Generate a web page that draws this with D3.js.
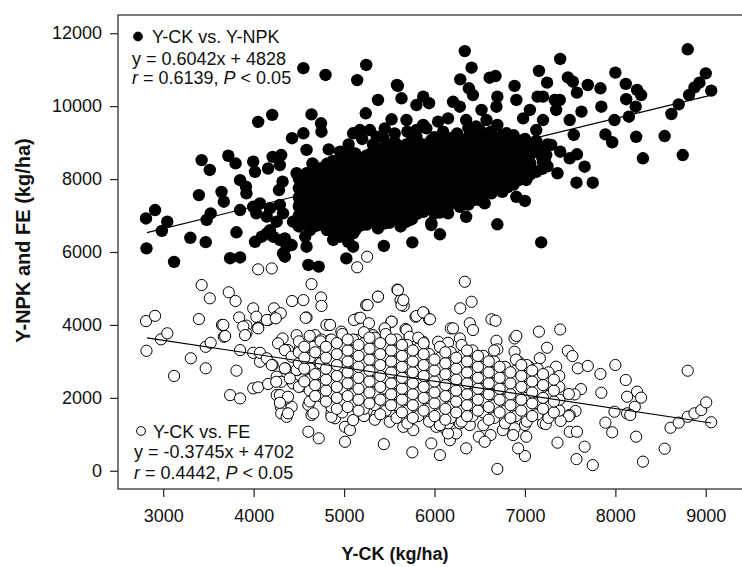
<!DOCTYPE html>
<html>
<head>
<meta charset="utf-8">
<script src="https://cdn.jsdelivr.net/npm/d3@7/dist/d3.min.js"></script>
<style>
  html, body { margin: 0; padding: 0; background: #fff; }
  svg { display: block; font-family: "Liberation Sans", Arial, sans-serif; }
</style>
</head>
<body>
<svg id="chart" width="742" height="567"></svg>
<script>
// ---------------- DATA ----------------
const xTicks = [3000, 4000, 5000, 6000, 7000, 8000, 9000];
const yTicks = [0, 2000, 4000, 6000, 8000, 10000, 12000];
const xTitle = "Y-CK (kg/ha)";
const yTitle = "Y-NPK and FE (kg/ha)";

// Y-CK vs. Y-NPK (filled circles)
const ckVsNpk = [
  [2810,6920],[2910,7150],[2815,6100],[2985,6580],[3045,6830],[3120,5730],[3300,6390],[3395,7560],[3425,8520],[3515,8250],
  [3470,6270],[3480,6880],[3525,7060],[3645,7650],[3670,7380],[3720,8640],[3800,8430],[3810,6540],[3740,5830],[3850,5850],
  [3850,7150],[3850,7970],[3915,7790],[3995,8480],[4015,8200],[3920,7610],[4050,9570],[4205,9760],[3995,7240],[4030,7060],
  [4070,7330],[4160,8290],[4210,8610],[4305,8660],[4290,8385],[4320,7930],[4280,7700],[4290,7290],[4180,7200],[4145,6970],
  [4325,7060],[4255,6830],[4015,6280],[4090,6420],[4145,6510],[4180,6600],[4215,6420],[4290,6330],[4345,6375],[4325,5960],
  [4365,6145],[4420,6190],[4345,5870],[4425,9120],[4550,9255],[4640,9775],[4745,9530],[4750,9300],[4585,8800],[4650,8430],
  [4550,11040],[4795,10855],[5145,10715],[5245,11130],[5240,9805],[4830,8815],[4955,8750],[4475,8160],[4585,8160],[4570,7515],
  [4510,7335],[4435,6830],[4530,6830],[4570,6420],[4585,6145],[4605,5645],[4720,5600],[5025,5825],[4955,6420],[4955,6600],
  [5045,6280],[5100,6510],[5080,6970],[5195,7335],[4880,6330],[4860,6600],[4730,6880],[4825,7240],[4695,7240],[5100,9255],
  [4660,8385],[4845,8385],[4970,8520],[5585,10580],[5175,9345],[5285,9345],[5800,9345],[5910,9390],[6095,9300],[5965,6795],
  [5100,6145],[7220,8520],[6260,7335],
  [6335,11510],[6410,11055],[6285,10735],[6610,10780],[6675,10825],[6380,10490],[6425,10305],[7390,11295],[7155,10965],[7245,10645],
  [7475,10790],[7530,10670],[7695,10580],[7575,10370],[7835,10490],[8000,10920],[8115,10610],[8240,10445],[8285,10305],[8800,11560],
  [9000,10900],[8930,10645],[8875,10515],[8815,10305],[9060,10425],[8700,10050],[8620,9785],[8545,9180],[8745,8660],[8305,8570],
  [8230,9160],[8150,9710],[8225,9985],[8120,10190],[7990,9620],[7845,9985],[7890,9225],[7965,9010],[7750,7900],[7570,7900],
  [7660,8340],[7575,8680],[7495,8570],[7540,9210],[7625,9850],[7495,9620],[7360,8160],[7390,8750],[7180,6265],[7200,8475],
  [7235,8660],[7290,8935],[7330,10170],[7200,10260],[7140,10260],[7385,10170],[7345,9895],[7200,9620],[7125,9345],[7055,9895],
  [6980,9665],[6905,10170],[6885,10555],[6695,10260],[6685,9985],[6520,9895],[6575,9620],[6695,9485],[6795,9255],[6940,8980],
  [7015,8750],[6980,8340],[7015,7975],[6940,8160],[6905,7515],[7000,7400],[6755,7975],[6630,7610],[6500,7425],[6555,7335],
  [6350,6965],[6695,6760],[6390,7610],[6280,7240],[6150,7060],[6060,6485],[5965,6740],[6000,7060],[5755,6265],[5440,6165],
  [5725,6875],[5655,6925],[5505,6875],[5360,6875],[5395,7240],[5525,7515],[5690,7150],[5835,7425],[5950,7610],[6095,7425],
  [6240,7700],[5375,10170],[5595,10555],[5635,10215],[5800,10030],[5875,10260],[5940,10080],[5525,9640],[5450,9390],[5690,9620],
  [5875,9485],[6040,9575],[6150,9665],[6205,10120],[6280,9985],[5965,9070],[5800,9160],[5560,9020],[5360,9160],[6350,9620],
  [6460,9440],[5050,8950],[5200,9100],[5320,8950],[5430,9150],[5560,9250],[5700,9300],[5650,8900],
  // dense core
  [4500,6700],[4500,7000],[4500,7250],[4500,7500],[4500,7750],[4500,8000],
  [4625,6600],[4625,6850],[4625,7100],[4625,7400],[4625,7650],[4625,7900],[4625,8150],
  [4750,6750],[4750,7000],[4750,7250],[4750,7550],[4750,7800],[4750,8050],[4750,8300],
  [4875,6550],[4875,6850],[4875,7100],[4875,7400],[4875,7650],[4875,7950],[4875,8250],[4875,8500],
  [5000,6700],[5000,6950],[5000,7250],[5000,7500],[5000,7750],[5000,8000],[5000,8300],[5000,8600],
  [5125,6600],[5125,6900],[5125,7150],[5125,7400],[5125,7700],[5125,7950],[5125,8200],[5125,8450],[5125,8700],
  [5250,6750],[5250,7050],[5250,7300],[5250,7550],[5250,7800],[5250,8100],[5250,8350],[5250,8650],
  [5375,6650],[5375,6950],[5375,7200],[5375,7500],[5375,7750],[5375,8000],[5375,8250],[5375,8550],[5375,8850],
  [5500,6800],[5500,7100],[5500,7350],[5500,7600],[5500,7900],[5500,8150],[5500,8400],[5500,8700],[5500,8950],
  [5625,6700],[5625,7000],[5625,7250],[5625,7550],[5625,7800],[5625,8050],[5625,8300],[5625,8600],
  [5750,6900],[5750,7200],[5750,7450],[5750,7700],[5750,7950],[5750,8250],[5750,8500],[5750,8800],[5750,9050],
  [5875,7100],[5875,7350],[5875,7650],[5875,7900],[5875,8150],[5875,8400],[5875,8700],[5875,8950],
  [6000,7300],[6000,7550],[6000,7850],[6000,8100],[6000,8350],[6000,8600],[6000,8900],[6000,9150],
  [6125,7200],[6125,7450],[6125,7750],[6125,8000],[6125,8250],[6125,8500],[6125,8800],[6125,9050],
  [6250,7400],[6250,7650],[6250,7900],[6250,8200],[6250,8450],[6250,8700],[6250,8950],[6250,9250],
  [6375,7300],[6375,7850],[6375,8100],[6375,8350],[6375,8650],[6375,8900],[6375,9150],[6375,9400],
  [6500,7550],[6500,7800],[6500,8050],[6500,8300],[6500,8600],[6500,8850],[6500,9100],[6500,9350],
  [6625,7700],[6625,7950],[6625,8250],[6625,8500],[6625,8750],[6625,9000],[6625,9300],
  [6750,7650],[6750,8150],[6750,8450],[6750,8700],[6750,8950],[6750,9200],
  [6875,7850],[6875,8100],[6875,8400],[6875,8650],[6875,8900],[6875,9200],
  [7000,8050],[7000,8300],[7000,8600],[7000,9100],
  [7125,8200],[7125,8750],[7125,9050],
  [7250,8350],[7250,8950],
  [4560,6850],[4560,7120],[4560,7380],[4560,7630],[4560,7880],
  [4690,6720],[4690,6980],[4690,7230],[4690,7480],[4690,7730],[4690,8000],[4690,8230],
  [4810,6600],[4810,6870],[4810,7130],[4810,7380],[4810,7700],[4810,7930],[4810,8180],[4810,8420],
  [4940,6820],[4940,7080],[4940,7330],[4940,7600],[4940,7880],[4940,8130],[4940,8420],
  [5060,6580],[5060,6830],[5060,7100],[5060,7370],[5060,7630],[5060,7880],[5060,8130],[5060,8430],[5060,8680],
  [5190,6730],[5190,7030],[5190,7280],[5190,7560],[5190,7830],[5190,8080],[5190,8330],[5190,8580],
  [5310,6880],[5310,7180],[5310,7420],[5310,7680],[5310,7930],[5310,8180],[5310,8450],[5310,8730],
  [5440,6780],[5440,7050],[5440,7280],[5440,7560],[5440,7830],[5440,8080],[5440,8330],[5440,8600],[5440,8830],
  [5560,6950],[5560,7230],[5560,7480],[5560,7730],[5560,7980],[5560,8250],[5560,8530],[5560,8820],
  [5690,6830],[5690,7100],[5690,7380],[5690,7630],[5690,7880],[5690,8130],[5690,8420],[5690,8700],[5690,8950],
  [5810,7050],[5810,7330],[5810,7580],[5810,7830],[5810,8080],[5810,8380],[5810,8630],[5810,8880],
  [5940,7180],[5940,7430],[5940,7720],[5940,7980],[5940,8230],[5940,8480],[5940,8780],
  [6060,7080],[6060,7380],[6060,7630],[6060,7930],[6060,8180],[6060,8430],[6060,8680],[6060,9030],
  [6190,7330],[6190,7580],[6190,7830],[6190,8080],[6190,8380],[6190,8630],[6190,8880],[6190,9130],
  [6310,7480],[6310,7730],[6310,8030],[6310,8280],[6310,8530],[6310,8830],[6310,9080],
  [6440,7430],[6440,7700],[6440,7980],[6440,8230],[6440,8480],[6440,8780],[6440,9030],[6440,9280],
  [6560,7630],[6560,7880],[6560,8130],[6560,8430],[6560,8680],[6560,8930],[6560,9180],
  [6690,7830],[6690,8080],[6690,8330],[6690,8630],[6690,8880],[6690,9130],
  [6810,7780],[6810,8030],[6810,8280],[6810,8580],[6810,8830],[6810,9080],
  [6940,7980],[6940,8230],[6940,8480],[6940,8780],[6940,9030],
  [7060,8130],[7060,8430],[7060,8680],[7060,8930],
  [7190,8280],[7190,8600],[7190,8880]
];

// Y-CK vs. FE (open circles)
const ckVsFe = [
  [2810,4105],[2910,4250],[2815,3290],[2975,3605],[3045,3770],[3120,2600],[3305,3085],[3395,4160],[3425,5095],[3515,4730],
  [3470,2810],[3470,3400],[3525,3510],[3650,4000],[3670,3675],[3725,4895],[3800,4655],[3810,2745],[3740,2075],[3850,1985],
  [3850,3310],[3840,4205],[3920,3980],[3920,3770],[3995,4455],[4030,4225],[4050,3925],[3995,3235],[4070,2990],[4070,3235],
  [3995,2260],[4050,2290],[4160,2380],[4160,4135],[4225,4455],[4250,4225],[4300,4320],[4210,2900],[4255,2580],[4255,2075],
  [4305,2440],[4305,1940],[4300,1755],[4305,1575],[4365,1480],[4420,1755],[4365,1985],[4280,3510],[4320,3630],[4350,2810],
  [4425,4655],[4550,4680],[4640,5120],[4745,4755],[4750,4520],[4585,4205],[4835,4000],[4970,3815],[4435,2395],[4510,2625],
  [4530,2320],[4485,2765],[4475,3720],[4550,3130],[4620,2990],[4660,3400],[4680,3720],[4750,3130],[4605,1805],[4640,1530],
  [4605,1070],[4720,890],[4660,2120],[4715,2395],[4805,2440],[4860,2215],[4860,1575],[4900,1440],[5010,1205],[5010,795],
  [5065,1115],[5100,1390],[5065,1985],[5025,2300],[4880,3035],[4955,2765],[4990,3265],[5120,3590],[5155,4180],[5245,4545],
  [4050,5525],[4200,5550],[4145,4135],[4245,4180],[3885,3955],[4050,3905],[3905,3720],[3665,4000],[3685,3695],[4270,3495],
  [4750,3600],[4380,3310],[4510,3355],[4145,3085],[4200,2900],[4345,3310],[4420,3130],[4570,3130],[4715,3145],[4345,2810],
  [4475,2765],[4620,2810],[4770,2810],[4250,2440],[4400,2535],[4550,2395],[4695,2440],[4290,2075],[4380,2030],[4290,1865],
  [4380,1575],[4650,2120],[4660,1575],[4575,4195],[4805,4000],
  [5255,5870],[5145,5580],[5590,4970],[5625,4680],[5660,4520],[5375,4775],[5260,4545],[5790,4225],[5880,4335],[5940,4155],
  [5110,4135],[5180,4195],[5275,4045],[5525,4090],[5450,3890],[4845,4000],[5680,3890],[6180,3905],[5320,3720],[5725,3655],
  [6040,3540],[6150,3510],[5875,3400],[5560,3400],[5430,3540],[5135,3585],[4845,3585],
  [4860,1480],[5360,1480],[5505,1575],[5670,1440],[5890,1575],[6000,1300],[6130,1115],[6170,840],[6490,935],[6240,1025],
  [6335,5185],[5595,4955],[5375,4775],[5635,4545],[5655,4680],[5800,4245],[5875,4345],[5950,4155],[5525,4090],[5450,3905],
  [5690,3860],[5725,3675],[5875,3540],[6205,3905],[6285,4455],[6410,4635],[6390,4045],[6425,3860],[6280,3630],[6630,4155],
  [6675,4115],[6685,3565],[6695,3330],[6885,3630],[6905,3700],[6885,3265],[6930,2990],[7045,2855],[7155,3815],[7245,3375],
  [7165,3085],[7345,2855],[7390,3875],[7475,3290],[7525,3145],[7585,2810],[7695,2875],[7835,2655],[8000,2900],[8115,2490],
  [8240,2170],[8285,2005],[8130,2030],[8215,1755],[8130,1575],[8165,1530],[7990,1620],[7845,2140],[7620,2240],[7550,2095],
  [7485,2105],[7560,1640],[7495,1530],[7485,1500],[7345,1800],[7395,1365],[7275,1620],[7200,1305],[7230,1280],[7890,1320],
  [7965,1055],[7495,1070],[7575,1070],[7660,660],[7570,320],[7750,155],[7360,770],[8230,935],[8305,250],[8545,605],
  [8610,1180],[8700,1320],[8800,1480],[8875,1575],[8950,1665],[9005,1875],[9060,1330],[8800,2745],[6695,50],[7000,405],
  [6925,615],[7015,935],[7000,1255],[6885,1165],[6870,980],[6755,1115],[6750,1740],[6695,1735],[6620,980],[6555,795],
  [6350,615],[6060,430],[5965,750],[5755,505],[5440,730],[5655,1205],[5505,1345],[5360,1530],[5765,1115],[6020,1205],
  [6150,1025],[6280,1300],[6390,1255],[6150,1300],[6960,1575],[6815,2395],[7200,2440],[7275,2075],[7275,1575],
  // dense core
  [4500,2300],[4500,2950],[4500,3250],[4500,3550],
  [4620,1900],[4620,2200],[4620,2500],[4620,3100],[4620,3700],
  [4740,2050],[4740,2350],[4740,2650],[4740,2950],[4740,3250],[4740,3550],
  [4860,1750],[4860,2100],[4860,2400],[4860,2700],[4860,3000],[4860,3300],[4860,3600],
  [4980,1600],[4980,1900],[4980,2250],[4980,2550],[4980,2850],[4980,3150],[4980,3450],[4980,3750],
  [5100,1800],[5100,2100],[5100,2400],[5100,2700],[5100,3000],[5100,3300],[5100,3600],
  [5220,1500],[5220,1700],[5220,2000],[5220,2300],[5220,2600],[5220,2900],[5220,3200],[5220,3500],[5220,3800],
  [5340,1400],[5340,1800],[5340,2150],[5340,2450],[5340,2750],[5340,3050],[5340,3350],[5340,3650],
  [5460,1650],[5460,1950],[5460,2250],[5460,2550],[5460,2850],[5460,3150],[5460,3450],[5460,3750],
  [5580,1450],[5580,1800],[5580,2100],[5580,2400],[5580,2700],[5580,3000],[5580,3300],[5580,3600],
  [5700,1300],[5700,1650],[5700,1950],[5700,2250],[5700,2550],[5700,2850],[5700,3150],[5700,3450],
  [5820,1500],[5820,1850],[5820,2150],[5820,2450],[5820,2750],[5820,3050],[5820,3350],[5820,3650],
  [5940,1350],[5940,1700],[5940,2000],[5940,2300],[5940,2600],[5940,2900],[5940,3200],
  [6060,1250],[6060,1550],[6060,1900],[6060,2200],[6060,2500],[6060,2800],[6060,3100],[6060,3400],
  [6180,1450],[6180,1750],[6180,2050],[6180,2350],[6180,2650],[6180,2950],[6180,3250],
  [6300,1350],[6300,1650],[6300,1950],[6300,2250],[6300,2550],[6300,2850],[6300,3150],[6300,3450],
  [6420,1500],[6420,1800],[6420,2100],[6420,2400],[6420,2700],[6420,3000],[6420,3300],
  [6540,1250],[6540,1600],[6540,1950],[6540,2250],[6540,2550],[6540,2850],[6540,3150],
  [6660,1450],[6660,1800],[6660,2100],[6660,2400],[6660,2700],[6660,3000],[6660,3300],
  [6780,1300],[6780,1650],[6780,1950],[6780,2250],[6780,2550],[6780,2850],
  [6900,1500],[6900,1800],[6900,2150],[6900,2450],[6900,2750],[6900,3050],
  [7020,1350],[7020,1700],[7020,2000],[7020,2300],[7020,2600],[7020,2900],
  [7140,1550],[7140,1850],[7140,2200],[7140,2500],[7140,2800],
  [7260,1450],[7260,1750],[7260,2050],[7260,2400],[7260,2700],
  [7380,1650],[7380,1950],[7380,2300],[7380,2600],
  [4560,2450],[4560,2800],[4560,3100],[4560,3400],
  [4680,2050],[4680,2350],[4680,2650],[4680,3250],
  [4800,1900],[4800,2200],[4800,2500],[4800,2800],[4800,3100],[4800,3400],
  [4920,1700],[4920,2000],[4920,2300],[4920,2600],[4920,2900],[4920,3200],[4920,3500],
  [5040,1750],[5040,2050],[5040,2400],[5040,2700],[5040,3000],[5040,3300],[5040,3600],
  [5160,1650],[5160,1950],[5160,2250],[5160,2550],[5160,2850],[5160,3150],[5160,3450],
  [5280,1850],[5280,2150],[5280,2450],[5280,2750],[5280,3050],[5280,3350],[5280,3650],
  [5400,1550],[5400,1950],[5400,2300],[5400,2600],[5400,2900],[5400,3200],[5400,3500],
  [5520,1800],[5520,2100],[5520,2400],[5520,2700],[5520,3000],[5520,3300],[5520,3600],
  [5640,1600],[5640,1950],[5640,2250],[5640,2550],[5640,2850],[5640,3150],[5640,3450],
  [5760,1450],[5760,1800],[5760,2100],[5760,2400],[5760,2700],[5760,3000],[5760,3300],
  [5880,1650],[5880,2000],[5880,2300],[5880,2600],[5880,2900],[5880,3200],[5880,3500],
  [6000,1500],[6000,1850],[6000,2150],[6000,2450],[6000,2750],[6000,3050],
  [6120,1400],[6120,1700],[6120,2050],[6120,2350],[6120,2650],[6120,2950],[6120,3250],
  [6240,1600],[6240,1900],[6240,2200],[6240,2500],[6240,2800],[6240,3100],
  [6360,1500],[6360,1800],[6360,2100],[6360,2400],[6360,2700],[6360,3000],[6360,3300],
  [6480,1650],[6480,1950],[6480,2250],[6480,2550],[6480,2850],[6480,3150],
  [6600,1400],[6600,1750],[6600,2100],[6600,2400],[6600,2700],[6600,3000],
  [6720,1600],[6720,1950],[6720,2250],[6720,2550],[6720,2850],
  [6840,1450],[6840,1800],[6840,2100],[6840,2400],[6840,2700],
  [6960,1650],[6960,1950],[6960,2300],[6960,2600],[6960,2900],
  [7080,1500],[7080,1850],[7080,2150],[7080,2450],[7080,2750],
  [7200,1700],[7200,2000],[7200,2350],[7200,2650],
  [7320,1600],[7320,1900],[7320,2200],[7320,2500]
];

// fitted lines and legend texts
const fitRange = [2820, 9060];
const npkFit = [0.6042, 4828];
const feFit = [-0.3745, 4702];
const npkLegend = ["Y-CK vs. Y-NPK", "y = 0.6042x + 4828", ["r", " = 0.6139, ", "P", " < 0.05"]];
const feLegend = ["Y-CK vs. FE", "y = -0.3745x + 4702", ["r", " = 0.4442, ", "P", " < 0.05"]];

// ---------------- CHART ----------------
const svg = d3.select("#chart");
const x = d3.scaleLinear().domain([2500, 9500]).range([118, 751]);
const y = d3.scaleLinear().domain([-500, 12500]).range([489, 15]);
const FS = 18;

// frame
svg.append("rect")
  .attr("x", x(2500)).attr("y", y(12500))
  .attr("width", x(9500) - x(2500)).attr("height", y(-500) - y(12500))
  .attr("fill", "none").attr("stroke", "#222").attr("stroke-width", 1.2);

// axes
const xAxis = svg.append("g").attr("transform", `translate(0,${y(-500)})`)
  .call(d3.axisBottom(x).tickValues(xTicks).tickFormat(d3.format("d")).tickSize(8).tickSizeOuter(0).tickPadding(12.5));
const yAxis = svg.append("g").attr("transform", `translate(${x(2500)},0)`)
  .call(d3.axisLeft(y).tickValues(yTicks).tickFormat(d3.format("d")).tickSize(8).tickSizeOuter(0).tickPadding(8));
[xAxis, yAxis].forEach(g => {
  g.select(".domain").remove();
  g.selectAll(".tick line").attr("stroke", "#222").attr("stroke-width", 1.2);
  g.selectAll(".tick text").attr("fill", "#111").style("font-size", FS + "px")
    .style("font-family", '"Liberation Sans", Arial, sans-serif');
});

// axis titles
svg.append("text").attr("x", 395).attr("y", 560).attr("text-anchor", "middle")
  .style("font-size", "18px").style("font-weight", "bold").attr("fill", "#111").text(xTitle);
svg.append("text").attr("transform", `translate(30,${240.5}) rotate(-90)`).attr("text-anchor", "middle")
  .style("font-size", "20px").style("font-weight", "bold").attr("fill", "#111").text(yTitle);

// points
const plot = svg.append("g");
plot.selectAll("circle.fe").data(ckVsFe).join("circle").attr("class", "fe")
  .attr("cx", d => x(d[0])).attr("cy", d => y(d[1])).attr("r", 5.6)
  .attr("fill", "#fff").attr("stroke", "#000").attr("stroke-width", 1);
plot.selectAll("circle.npk").data(ckVsNpk).join("circle").attr("class", "npk")
  .attr("cx", d => x(d[0])).attr("cy", d => y(d[1])).attr("r", 6.2)
  .attr("fill", "#000");

// regression lines
[npkFit, feFit].forEach(f => {
  svg.append("line")
    .attr("x1", x(fitRange[0])).attr("y1", y(f[0] * fitRange[0] + f[1]))
    .attr("x2", x(fitRange[1])).attr("y2", y(f[0] * fitRange[1] + f[1]))
    .attr("stroke", "#000").attr("stroke-width", 1.1);
});

// legends
function legend(items, mx, my, filled, x1, x2, baselines) {
  svg.append("circle").attr("cx", mx).attr("cy", my).attr("r", 4.4)
    .attr("fill", filled ? "#000" : "#fff").attr("stroke", "#000").attr("stroke-width", 1);
  const t = (xx, yy) => svg.append("text").attr("x", xx).attr("y", yy)
    .style("font-size", FS + "px").attr("fill", "#111");
  t(x1, baselines[0]).text(items[0]);
  t(x2, baselines[1]).text(items[1]);
  const l3 = t(x2, baselines[2]);
  items[2].forEach((s, i) => l3.append("tspan").style("font-style", i % 2 === 0 ? "italic" : "normal").text(s));
}
legend(npkLegend, 138, 36.5, true, 152, 132, [42.7, 64.8, 83.5]);
legend(feLegend, 141, 431, false, 153, 134, [437.7, 458.3, 479]);
</script>
</body>
</html>
